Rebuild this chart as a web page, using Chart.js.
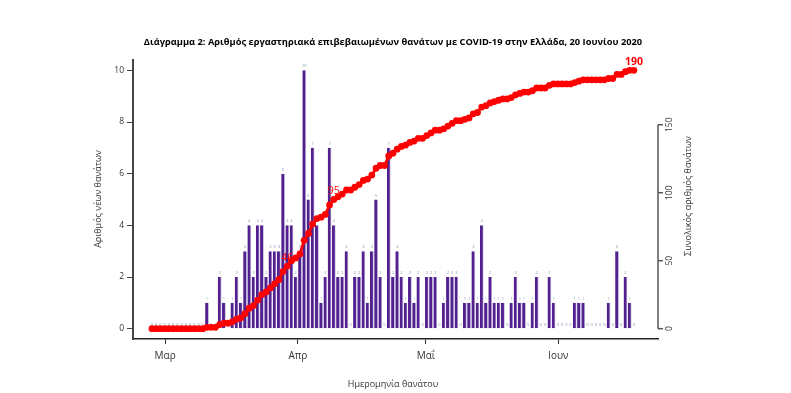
<!DOCTYPE html>
<html>
<head>
<meta charset="utf-8">
<script src="https://cdn.jsdelivr.net/npm/chart.js@4.4.1/dist/chart.umd.min.js"></script>
<style>
  html, body { margin: 0; padding: 0; background: #fff; }
  canvas { display: block; }
</style>
</head>
<body>
<canvas id="chart" width="791" height="393"></canvas>
<script>
// daily lab-confirmed COVID-19 deaths, one value per day from 27 Feb 2020 to 20 Jun 2020
const daily = [
  0,0,0,0,0,0,0,0,0,0,0,0,0,
  1,0,0,2,1,0,1,2,1,3,4,2,4,4,2,3,3,3,6,4,
  4,2,3,10,5,7,4,1,2,7,4,2,2,3,0,2,2,3,1,3,5,2,
  0,7,2,3,2,1,2,1,2,0,2,2,2,0,1,2,2,2,0,1,1,
  3,1,4,1,2,1,1,1,0,1,2,1,1,0,1,2,0,0,2,1,
  0,0,0,0,1,1,1,0,0,0,0,0,1,0,3,0,2,1,0
];
// running total of deaths
const cumulative = [
  0,0,0,0,0,0,0,0,0,0,0,0,0,
  1,1,1,3,4,4,5,7,8,11,15,17,21,25,27,30,33,36,42,46,
  50,52,55,65,70,77,81,82,84,91,95,97,99,102,102,104,106,109,110,113,118,120,
  120,127,129,132,134,135,137,138,140,140,142,144,146,146,147,149,151,153,153,154,155,
  158,159,163,164,166,167,168,169,169,170,172,173,174,174,175,177,177,177,179,180,
  180,180,180,180,181,182,183,183,183,183,183,183,184,184,187,187,189,190,190
];
const monthLabels = ['Μαρ', 'Απρ', 'Μαΐ', 'Ιουν'];
const monthTickPos = [3.1, 34.5, 64.8, 96.1];
const leftTicks = [0, 2, 4, 6, 8, 10];
const rightTicks = [0, 50, 100, 150];
const markedDays = [32, 43, 114];

const FONT = '"Open Sans", "DejaVu Sans", sans-serif';
const TITLE = 'Διάγραμμα 2: Αριθμός εργαστηριακά επιβεβαιωμένων θανάτων με COVID-19 στην Ελλάδα, 20 Ιουνίου 2020';

function rotText(ctx, txt, x, y){
  ctx.save();
  ctx.translate(x, y);
  ctx.rotate(-Math.PI / 2);
  ctx.fillText(txt, 0, 0);
  ctx.restore();
}

const extras = {
  id: 'extras',
  afterDatasetDraw(chart, args){
    if(args.index !== 0) return;
    // small value labels above the bars
    const ctx = chart.ctx;
    const meta = chart.getDatasetMeta(0);
    ctx.save();
    ctx.font = '4px ' + FONT;
    ctx.fillStyle = '#8090b0';
    ctx.textAlign = 'center';
    ctx.textBaseline = 'bottom';
    meta.data.forEach((bar, i) => ctx.fillText(String(daily[i]), bar.x, bar.y - 2));
    ctx.restore();
  },
  afterDraw(chart){
    const ctx = chart.ctx;
    const area = chart.chartArea;
    const y1 = chart.scales.y1;
    ctx.save();

    // title
    ctx.fillStyle = '#000';
    ctx.font = 'bold 9.3px ' + FONT;
    ctx.textAlign = 'center';
    ctx.textBaseline = 'middle';
    ctx.fillText(TITLE, 393, 42);

    // axis titles
    ctx.fillStyle = '#333';
    ctx.font = '9px ' + FONT;
    ctx.fillText('Ημερομηνία θανάτου', 393, 384);
    rotText(ctx, 'Αριθμός νέων θανάτων', 98, 199);
    rotText(ctx, 'Συνολικός αριθμός θανάτων', 688, 196);

    // right axis
    const xr = area.right;
    ctx.strokeStyle = '#555';
    ctx.lineWidth = 1.5;
    ctx.beginPath();
    ctx.moveTo(xr, y1.getPixelForValue(rightTicks[0]));
    ctx.lineTo(xr, y1.getPixelForValue(rightTicks[rightTicks.length - 1]));
    ctx.stroke();
    ctx.font = '8.5px ' + FONT;
    rightTicks.forEach(v => {
      const py = y1.getPixelForValue(v);
      ctx.beginPath();
      ctx.moveTo(xr, py);
      ctx.lineTo(xr + 5, py);
      ctx.stroke();
      rotText(ctx, String(v), xr + 12, py);
    });

    // cumulative markers
    const pts = chart.getDatasetMeta(1).data;
    ctx.fillStyle = '#ff0000';
    ctx.textBaseline = 'bottom';
    markedDays.forEach((d, k) => {
      const p = pts[d];
      ctx.font = (k === markedDays.length - 1 ? 'bold ' : '') + '10.5px ' + FONT;
      ctx.fillText(String(cumulative[d]), p.x, p.y - 3);
    });
    ctx.restore();
  }
};

new Chart(document.getElementById('chart'), {
  data: {
    datasets: [
      {
        type: 'bar',
        data: daily.map((v, i) => ({x: i, y: v})),
        backgroundColor: '#53218f',
        borderColor: '#b2a6d6',
        borderWidth: {left: 0, right: 0.8, top: 0, bottom: 0},
        barPercentage: 0.88,
        categoryPercentage: 1,
        yAxisID: 'y',
        order: 1
      },
      {
        type: 'line',
        data: cumulative.map((v, i) => ({x: i, y: v})),
        borderColor: '#ff0000',
        backgroundColor: '#ff0000',
        borderWidth: 2.8,
        pointRadius: 3.4,
        pointBorderWidth: 0,
        tension: 0,
        yAxisID: 'y1',
        order: 0
      }
    ]
  },
  options: {
    responsive: false,
    animation: false,
    devicePixelRatio: 1,
    layout: {padding: {left: 0, right: 133, top: 60, bottom: 0}},
    plugins: {legend: {display: false}, tooltip: {enabled: false}},
    scales: {
      x: {
        type: 'linear',
        min: -4.5,
        max: 119.7,
        offset: false,
        afterBuildTicks: s => { s.ticks = monthTickPos.map(v => ({value: v})); },
        afterFit: s => { s.height = 54; },
        grid: {offset: false, drawOnChartArea: false, drawTicks: true, tickLength: 5, color: '#333'},
        border: {color: '#222', width: 1.5},
        ticks: {
          callback: (v, i) => monthLabels[i],
          autoSkip: false, maxRotation: 0, padding: 6,
          color: '#333', font: {family: FONT, size: 10}
        }
      },
      y: {
        position: 'left',
        min: -0.4,
        max: 10.4,
        afterBuildTicks: s => { s.ticks = leftTicks.map(v => ({value: v})); },
        afterFit: s => { s.width = 133; },
        grid: {drawOnChartArea: false, drawTicks: true, tickLength: 6, color: '#444'},
        border: {color: '#444', width: 2},
        ticks: {padding: 3, color: '#333', font: {family: FONT, size: 8.5}}
      },
      y1: {
        position: 'right',
        display: false,
        min: -7.6,
        max: 197.6
      }
    }
  },
  plugins: [extras]
});
</script>
</body>
</html>
